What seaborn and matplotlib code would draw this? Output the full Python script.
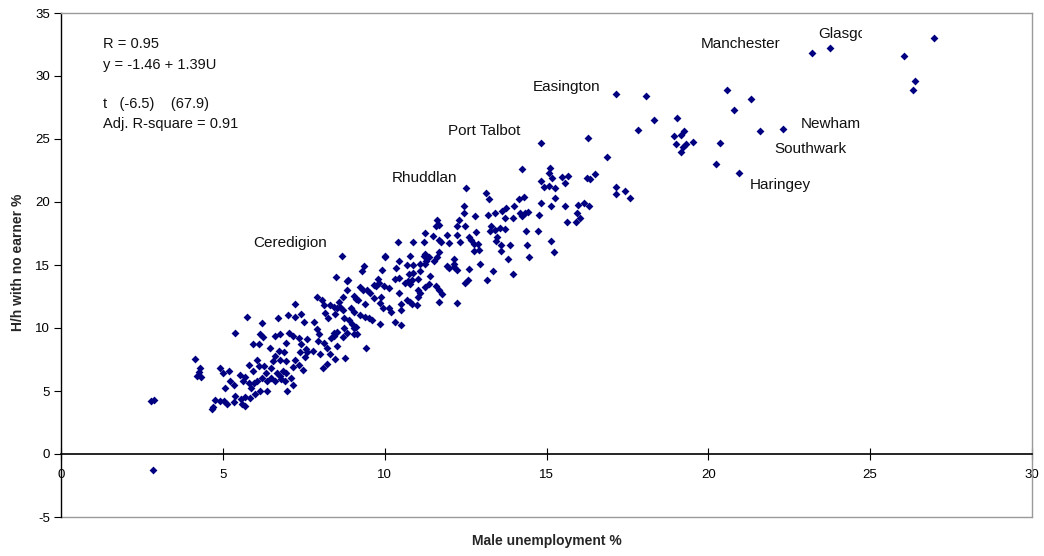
import matplotlib
matplotlib.use("Agg")
import matplotlib.pyplot as plt
import seaborn as sns
import pandas as pd
from matplotlib.transforms import Bbox, TransformedBbox

# ---- data ----
male_unemp = [
    2.78, 2.88, 2.85, 4.15, 4.30, 4.26, 4.19, 4.32, 4.67, 4.75, 4.90, 4.71, 5.04, 5.14,
    4.91, 5.02, 5.18, 5.22, 5.08, 5.33, 5.53, 5.62, 5.70, 5.80, 5.88, 5.97, 6.05, 6.21,
    6.38, 6.38, 6.15, 6.00, 5.84, 5.70, 5.55, 5.39, 5.33, 5.60, 5.68,
    6.48, 6.60, 6.77, 6.98, 7.18, 7.49, 6.96, 6.56,
    6.05, 5.80, 5.94, 6.11, 6.28, 6.34, 6.50, 6.67, 6.87, 6.79, 6.93, 7.10, 7.18,
    8.11, 8.21, 8.77, 8.46, 8.32, 7.99,
    5.93, 6.13, 6.46, 6.73, 6.62, 6.89, 6.77, 6.96, 7.22, 7.55, 7.35, 7.61,
    6.15, 6.25, 6.62, 6.77, 7.04, 6.96, 7.18, 7.35, 7.41, 7.59, 7.39, 7.57, 7.80, 7.94,
    7.90, 7.97, 8.13, 8.21, 8.34, 8.44, 8.52, 8.71, 8.83, 9.04, 9.12, 9.14,
    5.37, 5.76, 6.21, 6.69, 7.00, 7.22, 7.24, 7.41, 7.51, 7.82,
    7.92, 8.07, 8.13, 8.42, 8.17, 8.25, 8.62, 8.71, 8.83, 8.85,
    9.04, 9.24, 9.34, 9.40, 9.04, 9.24, 9.40, 8.91, 9.43,
    11.63, 11.59, 12.45, 12.79, 13.18, 13.42, 13.63, 13.96, 13.71, 12.31, 12.25, 12.48,
    11.26, 11.49, 11.94, 12.22, 11.69, 12.81, 12.68, 12.77, 12.87, 12.75, 12.92,
    13.29, 13.24, 13.42, 13.55, 13.71, 13.45, 13.59, 13.88,
    10.42, 10.87, 11.22, 11.74, 11.98, 11.26, 11.37, 11.68, 10.79, 10.44, 10.01, 9.37,
    9.30, 8.69,
    11.10, 11.24, 11.51, 11.61, 11.10, 10.89, 10.75,
    12.00, 12.13, 12.23, 12.13, 12.95, 12.62, 13.34, 13.98, 13.16, 12.56, 12.49,
    9.92, 9.78, 9.84, 9.66, 9.98, 10.13, 10.33, 10.44, 10.62, 10.71, 10.83, 11.04,
    11.41, 11.37, 11.26, 11.04, 11.10, 10.79,
    11.59, 11.68, 11.76, 11.68, 12.23, 8.87, 8.50,
    9.55, 9.66, 9.10, 9.18, 8.58,
    9.88, 9.86, 9.96, 10.13, 10.19, 10.44, 10.50, 10.52, 10.69, 10.77, 10.85, 11.00, 11.04,
    8.32, 8.52, 8.46, 8.71, 8.96, 8.73, 9.53, 9.61, 9.86, 10.33, 10.50, 9.00, 9.06,
    8.73, 8.52, 8.44,
    10.00, 10.35, 10.69, 10.89, 11.28, 11.20, 9.45, 9.72, 11.69, 12.60,
    12.51, 13.14, 13.22, 12.46, 13.76,
    14.01, 14.15, 14.29, 14.18, 14.34, 14.43, 14.25,
    14.84, 15.14, 15.25, 15.56, 14.78,
    15.98, 16.17, 16.31, 15.94, 16.02, 15.90, 15.62,
    12.33, 13.47, 13.59, 13.81, 14.36, 14.75, 14.41, 14.47, 15.13, 15.22, 12.13, 11.94,
    17.16, 18.07, 18.31, 17.82, 14.82, 16.28, 16.88, 14.25,
    15.10, 15.09, 15.17, 15.48, 15.66, 14.83, 14.91, 15.07, 15.27, 15.58, 16.25, 16.33,
    16.50, 17.16, 17.16, 17.44, 17.59,
    19.02, 19.25, 19.15, 18.95, 19.00, 19.30, 19.22, 19.17, 19.54, 20.37, 20.25, 20.94,
    20.59, 21.33, 20.80, 21.60, 22.30, 23.20, 23.77, 26.97, 26.06, 26.37, 26.33,
]
hh_no_earner = [
    4.20, 4.25, -1.25, 7.55, 6.80, 6.50, 6.20, 6.10, 3.60, 4.30, 4.20, 3.70, 4.20, 3.95,
    6.80, 6.40, 6.55, 5.80, 5.25, 5.50, 6.30, 5.80, 6.10, 5.60, 5.20, 5.60, 5.80, 6.05,
    5.80, 5.00, 5.00, 4.75, 4.45, 4.50, 4.40, 4.60, 4.15, 3.95, 3.80,
    6.05, 5.80, 6.20, 5.00, 5.50, 6.70, 6.40, 7.40,
    7.50, 7.10, 6.60, 6.95, 6.95, 6.40, 6.80, 6.40, 6.60, 5.95, 5.80, 6.05, 6.90,
    6.80, 7.15, 7.65, 7.55, 7.90, 7.95,
    8.70, 8.70, 8.40, 8.20, 7.75, 8.10, 7.50, 7.40, 7.50, 7.70, 7.10, 8.10,
    9.50, 9.30, 9.40, 9.50, 9.60, 8.80, 9.40, 9.20, 8.70, 9.10, 8.10, 8.30, 8.20, 9.00,
    9.90, 9.50, 8.80, 8.40, 9.20, 9.60, 8.60, 9.30, 9.60, 9.50, 10.10, 9.50,
    9.60, 10.90, 10.40, 10.80, 11.00, 11.90, 10.90, 11.10, 10.50, 10.50,
    12.45, 12.20, 11.80, 11.70, 11.20, 10.80, 11.65, 12.45, 13.00, 13.70,
    12.55, 13.25, 13.05, 11.90, 11.25, 11.00, 10.90, 10.65, 8.40,
    18.60, 18.10, 19.10, 18.90, 19.00, 19.10, 19.30, 18.75, 18.75, 18.60, 18.10, 18.10,
    17.50, 17.30, 17.40, 17.40, 17.00, 17.60, 17.00, 16.70, 16.70, 16.10, 16.20,
    18.10, 17.70, 17.75, 17.90, 17.85, 16.90, 16.10, 16.60,
    16.80, 16.80, 16.80, 16.80, 16.75, 15.85, 15.60, 16.00, 15.70, 15.30, 15.70, 14.90,
    14.50, 15.70,
    15.05, 15.05, 15.30, 15.60, 14.50, 14.40, 14.25,
    14.80, 14.85, 14.60, 15.10, 15.10, 14.70, 14.50, 14.30, 13.80, 13.80, 13.60,
    14.60, 13.90, 13.60, 13.40, 13.35, 13.15, 13.90, 14.00, 13.60, 13.70, 13.80, 13.90,
    14.10, 13.50, 13.25, 13.00, 12.80, 13.50,
    13.30, 13.00, 12.70, 12.10, 12.00, 13.80, 14.05,
    12.80, 12.35, 12.30, 12.20, 12.10,
    12.50, 12.00, 11.60, 11.55, 11.30, 12.80, 11.90, 11.45, 12.25, 12.10, 11.90, 11.80, 12.50,
    11.80, 11.60, 11.10, 11.45, 11.55, 10.80, 10.80, 10.65, 10.30, 10.45, 10.20, 10.30, 10.00,
    10.00, 9.70, 9.35,
    15.60, 14.80, 15.00, 15.00, 15.30, 15.70, 13.00, 13.30, 18.20, 17.20,
    21.10, 20.70, 20.20, 19.70, 19.50,
    19.70, 20.20, 20.40, 19.10, 19.10, 19.20, 18.90,
    19.90, 19.70, 20.30, 19.70, 19.00,
    19.80, 19.90, 19.65, 19.15, 18.75, 18.40, 18.40,
    16.80, 17.20, 16.55, 15.50, 17.70, 17.70, 16.60, 15.60, 16.90, 16.00, 15.50, 14.90,
    28.60, 28.40, 26.50, 25.70, 24.70, 25.05, 23.60, 22.60,
    22.70, 22.30, 21.90, 22.00, 22.10, 21.70, 21.20, 21.30, 21.10, 21.50, 21.90, 21.80,
    22.20, 21.20, 20.60, 20.90, 20.30,
    26.70, 25.60, 25.30, 25.20, 24.60, 24.60, 24.35, 24.00, 24.80, 24.70, 23.00, 22.30,
    28.90, 28.20, 27.30, 25.60, 25.80, 31.80, 32.20, 33.00, 31.60, 29.60, 28.90,
]

place_names = ["Ceredigion", "Rhuddlan", "Port Talbot", "Easington", "Manchester",
               "Glasgow", "Newham", "Southwark", "Haringey"]
place_x = [5.94, 10.23, 11.96, 14.59, 19.78, 23.40, 22.84, 22.04, 21.27]
place_y = [16.75, 21.9, 25.6, 29.1, 32.5, 33.3, 26.2, 24.2, 21.35]

stats_lines = ["R = 0.95", "y = -1.46 + 1.39U", "", "t   (-6.5)    (67.9)",
               "Adj. R-square = 0.91"]

x_ticks = [0, 5, 10, 15, 20, 25, 30]
y_ticks = [-5, 0, 5, 10, 15, 20, 25, 30, 35]
x_label = "Male unemployment %"
y_label = "H/h with no earner %"

df = pd.DataFrame({"u": male_unemp, "h": hh_no_earner})

sns.set_theme(style="white")
plt.rcParams["font.family"] = ["Liberation Sans", "DejaVu Sans"]
plt.rcParams["axes.unicode_minus"] = False

W, H = 1044, 556
fig = plt.figure(figsize=(W / 100, H / 100), dpi=100)
fig.patch.set_facecolor("white")
ax = fig.add_axes([61 / W, 1 - 517 / H, (1032 - 61) / W, (517 - 13) / H])

sns.scatterplot(data=df, x="u", y="h", marker="D", s=16, color="#000080",
                linewidth=0, ax=ax, zorder=3)

ax.set_xlim(0, 30)
ax.set_ylim(-5, 35)
ax.set_xticks(x_ticks)
ax.set_yticks(y_ticks)
ax.set_xlabel("")
ax.set_ylabel("")

frame_col = "#9a9a9a"
for side in ("top", "right"):
    ax.spines[side].set_color(frame_col)
    ax.spines[side].set_linewidth(1.0)
ax.spines["left"].set_color("black")
ax.spines["left"].set_linewidth(1.0)
ax.spines["bottom"].set_position(("data", 0))
ax.spines["bottom"].set_color("black")
ax.spines["bottom"].set_linewidth(1.2)
ax.plot([0, 30], [-5, -5], color=frame_col, lw=1.0, clip_on=False, zorder=1)

ax.tick_params(axis="x", direction="inout", length=8, width=0.8, pad=7,
               labelsize=9.5, colors="black", bottom=True)
ax.tick_params(axis="y", direction="out", length=5, width=0.8, pad=3,
               labelsize=9.5, colors="black", left=True)

for name, px, py in zip(place_names, place_x, place_y):
    t = ax.text(px, py, name, fontsize=11, ha="left", va="center", color="#111111")
    if name == "Glasgow":
        box = TransformedBbox(Bbox([[px - 0.3, py - 2.0], [24.76, py + 2.0]]),
                              ax.transData)
        t.set_clip_on(True)
        t.set_clip_box(box)
        t.set_clip_path(None)

ys = [44, 65, 85, 104, 124]
for line, yp in zip(stats_lines, ys):
    if line:
        fig.text(103 / W, 1 - yp / H, line, fontsize=10.5, ha="left", va="center",
                 color="#111111")

fig.text(547 / W, 1 - 541 / H, x_label, fontsize=10, fontweight="bold",
         ha="center", va="center")
fig.text(18 / W, 1 - 262 / H, y_label, fontsize=10, fontweight="bold",
         ha="center", va="center", rotation=90)

fig.savefig("out.png", dpi=100, facecolor="white")
